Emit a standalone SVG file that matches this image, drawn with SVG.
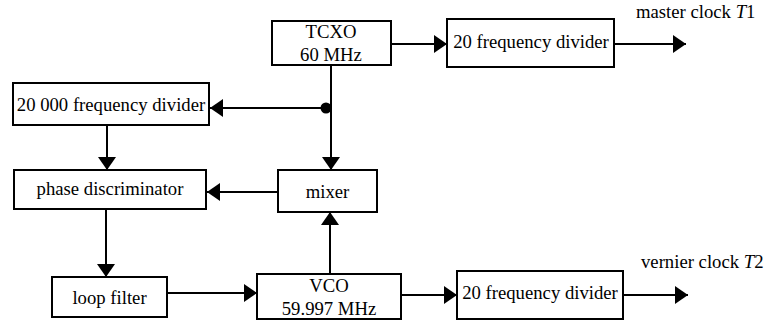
<svg xmlns="http://www.w3.org/2000/svg" width="777" height="324" viewBox="0 0 777 324">
<style>
.box{fill:#fff;stroke:#000;stroke-width:2}
.c{fill:none;stroke:#000;stroke-width:2;marker-end:url(#ah)}
</style>
<defs>
<marker id="ah" markerUnits="userSpaceOnUse" markerWidth="14" markerHeight="18" refX="13" refY="9" orient="auto">
<path d="M0,0 L13,9 L0,18 z" fill="#000"/>
</marker>
</defs>
<rect width="777" height="324" fill="#fff"/>
<g id="connectors">
<path class="c" d="M392,44 H447"/>
<path class="c" d="M614,44 H686"/>
<path class="c" d="M331,65 V170"/>
<path class="c" d="M331,108 H210"/>
<circle cx="326" cy="108" r="5.5" fill="#000"/>
<path class="c" d="M107,125 V170"/>
<path class="c" d="M278,192 H207"/>
<path class="c" d="M106,209 V277"/>
<path class="c" d="M167,293 H257"/>
<path class="c" d="M330,274 V212"/>
<path class="c" d="M401,295 H457"/>
<path class="c" d="M623,295 H688"/>
</g>
<g id="tcxo">
<rect class="box" x="272" y="21" width="119" height="44"/>
<text font-family="Liberation Serif" font-size="18.7" text-anchor="middle" x="331" y="38">TCXO</text>
<text font-family="Liberation Serif" font-size="18.7" text-anchor="middle" x="331" y="61">60 MHz</text>
</g>
<g id="div20top">
<rect class="box" x="447" y="19" width="167" height="48"/>
<text font-family="Liberation Serif" font-size="18.7" text-anchor="middle" x="531" y="48">20 frequency divider</text>
</g>
<text font-family="Liberation Serif" font-size="18.7" x="636" y="18">master clock <tspan font-style="italic">T</tspan>1</text>
<g id="div20000">
<rect class="box" x="13" y="83" width="196" height="42"/>
<text font-family="Liberation Serif" font-size="18.7" text-anchor="middle" x="111" y="111">20 000 frequency divider</text>
</g>
<g id="phase">
<rect class="box" x="14" y="170" width="192" height="39"/>
<text font-family="Liberation Serif" font-size="18.7" text-anchor="middle" x="110" y="195">phase discriminator</text>
</g>
<g id="mixer">
<rect class="box" x="278" y="170" width="99" height="42"/>
<text font-family="Liberation Serif" font-size="18.7" text-anchor="middle" x="327.5" y="198">mixer</text>
</g>
<g id="loop">
<rect class="box" x="52" y="277" width="115" height="40"/>
<text font-family="Liberation Serif" font-size="18.7" text-anchor="middle" x="109.5" y="304">loop filter</text>
</g>
<g id="vco">
<rect class="box" x="257" y="274" width="144" height="45"/>
<text font-family="Liberation Serif" font-size="18.7" text-anchor="middle" x="329" y="292">VCO</text>
<text font-family="Liberation Serif" font-size="18.7" text-anchor="middle" x="329" y="315">59.997 MHz</text>
</g>
<g id="div20bot">
<rect class="box" x="457" y="271" width="166" height="48"/>
<text font-family="Liberation Serif" font-size="18.7" text-anchor="middle" x="540" y="299">20 frequency divider</text>
</g>
<text font-family="Liberation Serif" font-size="18.7" x="641" y="268">vernier clock <tspan font-style="italic">T</tspan>2</text>
</svg>
